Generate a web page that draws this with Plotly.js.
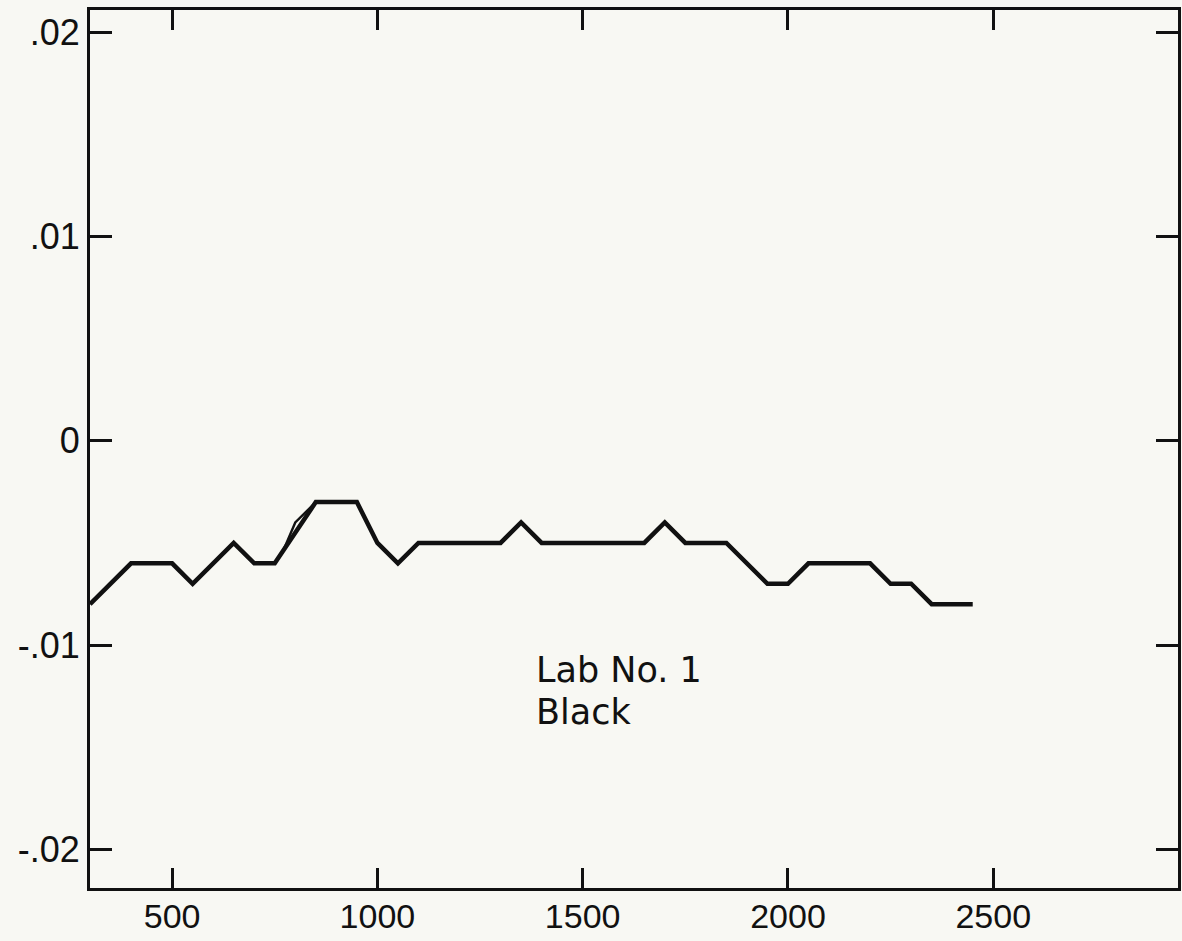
<!DOCTYPE html>
<html>
<head>
<meta charset="utf-8">
<script src="https://cdn.plot.ly/plotly-3.0.1.min.js"></script>
<style>
  html, body { margin: 0; padding: 0; background: #f8f8f3; }
  #chart { width: 1182px; height: 941px; }
</style>
</head>
<body>
<div id="chart"></div>
<script>
// Data
const wavelength = [300, 400, 500, 550, 650, 700, 750, 850, 950, 1000, 1050, 1100, 1300, 1350, 1400, 1650, 1700, 1750, 1850, 1950, 2000, 2050, 2200, 2250, 2300, 2350, 2450];
const difference = [-0.008, -0.006, -0.006, -0.007, -0.005, -0.006, -0.006, -0.003, -0.003, -0.005, -0.006, -0.005, -0.005, -0.004, -0.005, -0.005, -0.004, -0.005, -0.005, -0.007, -0.007, -0.006, -0.006, -0.007, -0.007, -0.008, -0.008];
// small pen loop between 750 and 850
const loopX = [768, 800, 850];
const loopY = [-0.0055, -0.0040, -0.003];

const xTickVals = [500, 1000, 1500, 2000, 2500];
const xTickText = ['500', '1000', '1500', '2000', '2500'];
const yTickVals = [0.02, 0.01, 0, -0.01, -0.02];
const yTickText = ['.02', '.01', '0', '-.01', '-.02'];

const labelLine1 = 'Lab No. 1';
const labelLine2 = 'Black';

const traces = [
  {
    x: wavelength, y: difference, type: 'scatter', mode: 'lines',
    line: { color: '#111111', width: 4.5 }, hoverinfo: 'skip'
  },
  {
    x: loopX, y: loopY, type: 'scatter', mode: 'lines',
    line: { color: '#111111', width: 2.4 }, hoverinfo: 'skip'
  }
];

const axisCommon = {
  showline: true, linewidth: 3, linecolor: '#111111',
  mirror: 'ticks', ticks: 'inside', tickwidth: 3, tickcolor: '#111111',
  showgrid: false, zeroline: false, fixedrange: true
};

const layout = {
  width: 1182, height: 941,
  margin: { l: 90, r: 4, t: 10, b: 53 },
  paper_bgcolor: '#f8f8f3', plot_bgcolor: '#f8f8f3',
  showlegend: false,
  xaxis: Object.assign({}, axisCommon, {
    range: [300, 2950], tickmode: 'array', tickvals: xTickVals, ticktext: xTickText,
    ticklen: 20, ticklabelstandoff: -4,
    tickfont: { family: 'Liberation Sans, Arial, sans-serif', size: 34, color: '#111111' }
  }),
  yaxis: Object.assign({}, axisCommon, {
    range: [-0.0219, 0.0211], tickmode: 'array', tickvals: yTickVals, ticktext: yTickText,
    ticklen: 22,
    tickfont: { family: 'Liberation Sans, Arial, sans-serif', size: 36, color: '#111111' }
  }),
  annotations: [
    { x: 1381, y: -0.0112, xref: 'x', yref: 'y', text: labelLine1, showarrow: false,
      xanchor: 'left', yanchor: 'middle',
      font: { family: 'DejaVu Sans, sans-serif', size: 35, color: '#111111' } },
    { x: 1381, y: -0.0133, xref: 'x', yref: 'y', text: labelLine2, showarrow: false,
      xanchor: 'left', yanchor: 'middle',
      font: { family: 'DejaVu Sans, sans-serif', size: 35, color: '#111111' } }
  ]
};

Plotly.newPlot('chart', traces, layout, { staticPlot: true, displayModeBar: false });
</script>
</body>
</html>
